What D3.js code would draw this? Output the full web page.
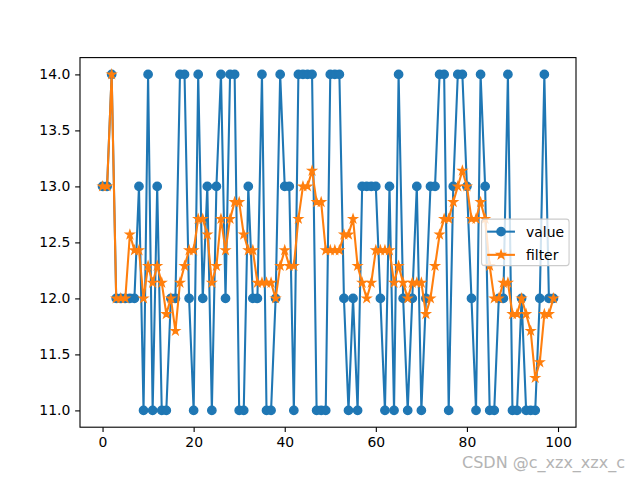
<!DOCTYPE html>
<html>
<head>
<meta charset="utf-8">
<script src="https://cdn.jsdelivr.net/npm/d3@7"></script>
<style>
  html, body { margin: 0; padding: 0; background: #ffffff; }
  svg { display: block; }
</style>
</head>
<body>
<script>
// ---- data ----
const valueSeries = [
  13,13,14,12,12,12,12,12,13,11,
  14,11,13,11,11,12,12,14,14,12,
  11,14,12,13,11,13,14,12,14,14,
  11,11,13,12,12,14,11,11,12,14,
  13,13,11,14,14,14,14,11,11,11,
  14,14,14,12,11,12,11,13,13,13,
  13,12,11,13,11,14,12,11,12,13,
  11,12,13,13,14,14,11,13,14,14,
  13,12,11,14,13,11,11,12,12,14,
  11,11,12,11,11,11,12,14,12,12
];
const filterSeries = [
  13,13,14,12,12,12,12.57,12.43,12.43,12.0,
  12.29,12.14,12.29,12.14,11.86,12.0,11.71,12.14,12.29,12.43,
  12.43,12.71,12.71,12.57,12.14,12.29,12.71,12.43,12.71,12.86,
  12.86,12.57,12.43,12.43,12.14,12.14,12.14,12.14,12.0,12.29,
  12.43,12.29,12.29,12.71,13.0,13.0,13.14,12.86,12.86,12.43,
  12.43,12.43,12.43,12.57,12.57,12.71,12.29,12.14,12.0,12.14,
  12.43,12.43,12.43,12.43,12.14,12.29,12.14,12.0,12.14,12.14,
  12.14,11.86,12.0,12.29,12.57,12.71,12.71,12.86,13.0,13.14,
  13.0,12.71,12.71,12.86,12.71,12.29,12.0,12.0,12.14,12.14,
  11.86,11.86,12.0,11.86,11.71,11.29,11.43,11.86,11.86,12.0
];
const seriesNames = ["value", "filter"];
const xTickValues = [0, 20, 40, 60, 80, 100];
const yTickValues = [11.0, 11.5, 12.0, 12.5, 13.0, 13.5, 14.0];
const watermark = "CSDN @c_xzx_xzx_c";

// ---- layout ----
const W = 640, H = 480;
const L = 80, R = 576, T = 57.6, B = 427.2;
const blue = "#1f77b4", orange = "#ff7f0e";
const font = "'DejaVu Sans', sans-serif";
const fs = 13.9;

const svg = d3.select("body").append("svg").attr("width", W).attr("height", H);
svg.append("rect").attr("width", W).attr("height", H).attr("fill", "#fff");

const n = valueSeries.length;
const x = d3.scaleLinear().domain([-(n - 1) * 0.05, (n - 1) * 1.05]).range([L, R]);
const y = d3.scaleLinear().domain([10.85, 14.15]).range([B, T]);

// axes
const xAxis = d3.axisBottom(x).tickValues(xTickValues).tickFormat(d3.format("d"))
  .tickSizeInner(4.86).tickSizeOuter(0).tickPadding(4.86);
const yAxis = d3.axisLeft(y).tickValues(yTickValues).tickFormat(d3.format(".1f"))
  .tickSizeInner(4.86).tickSizeOuter(0).tickPadding(4.86);

const gx = svg.append("g").attr("transform", `translate(0,${B})`).call(xAxis);
const gy = svg.append("g").attr("transform", `translate(${L},0)`).call(yAxis);
[gx, gy].forEach(g => {
  g.select(".domain").remove();
  g.selectAll(".tick line").attr("stroke", "#000").attr("stroke-width", 1.1);
  g.selectAll(".tick text").attr("fill", "#000").style("font-family", font).style("font-size", fs + "px");
});

const plot = svg.append("g");
const idx = valueSeries.map((v, i) => i);
const lineGen = d3.line().x(d => x(d[0])).y(d => y(d[1]));

// value series
plot.append("path")
  .datum(idx.map(i => [i, valueSeries[i]]))
  .attr("d", lineGen).attr("fill", "none").attr("stroke", blue)
  .attr("stroke-width", 2.08).attr("stroke-linejoin", "round").attr("stroke-linecap", "square");
plot.selectAll("circle.v").data(idx).enter().append("circle")
  .attr("class", "v")
  .attr("cx", i => x(i)).attr("cy", i => y(valueSeries[i])).attr("r", 4.17)
  .attr("fill", blue).attr("stroke", blue).attr("stroke-width", 1.39);

// star path (matplotlib-like)
function starPath(r) {
  const ri = r * 0.381966;
  const pts = [];
  for (let k = 0; k < 10; k++) {
    const a = -Math.PI / 2 + k * Math.PI / 5;
    const rr = k % 2 === 0 ? r : ri;
    pts.push([rr * Math.cos(a), rr * Math.sin(a)]);
  }
  return "M" + pts.map(p => p[0].toFixed(2) + "," + p[1].toFixed(2)).join("L") + "Z";
}
const star = starPath(4.17);

// filter series
plot.append("path")
  .datum(idx.map(i => [i, filterSeries[i]]))
  .attr("d", lineGen).attr("fill", "none").attr("stroke", orange)
  .attr("stroke-width", 2.08).attr("stroke-linejoin", "round").attr("stroke-linecap", "square");
plot.selectAll("path.f").data(idx).enter().append("path")
  .attr("class", "f")
  .attr("transform", i => `translate(${x(i)},${y(filterSeries[i])})`)
  .attr("d", star).attr("fill", orange).attr("stroke", orange)
  .attr("stroke-width", 1.39).attr("stroke-linejoin", "miter");

// frame
svg.append("rect").attr("x", L).attr("y", T).attr("width", R - L).attr("height", B - T)
  .attr("fill", "none").attr("stroke", "#000").attr("stroke-width", 1.1);

// legend
const lgW = 87.5, lgH = 46.5;
const lgX = R - 6.94 - lgW, lgY = (T + B) / 2 - lgH / 2;
const lg = svg.append("g");
lg.append("rect").attr("x", lgX).attr("y", lgY).attr("width", lgW).attr("height", lgH)
  .attr("rx", 2.8).attr("fill", "#fff").attr("fill-opacity", 0.8)
  .attr("stroke", "#cccccc").attr("stroke-width", 1.1);
const rows = [
  { name: seriesNames[0], color: blue, mark: "circle" },
  { name: seriesNames[1], color: orange, mark: "star" }
];
rows.forEach((r, k) => {
  const cy = lgY + 12.5 + k * 23.2;
  const hx0 = lgX + 5.6, hx1 = hx0 + 27.8;
  lg.append("line").attr("x1", hx0).attr("x2", hx1).attr("y1", cy).attr("y2", cy)
    .attr("stroke", r.color).attr("stroke-width", 2.08);
  if (r.mark === "circle") {
    lg.append("circle").attr("cx", (hx0 + hx1) / 2).attr("cy", cy).attr("r", 4.17)
      .attr("fill", r.color).attr("stroke", r.color).attr("stroke-width", 1.39);
  } else {
    lg.append("path").attr("transform", `translate(${(hx0 + hx1) / 2},${cy})`)
      .attr("d", star).attr("fill", r.color).attr("stroke", r.color).attr("stroke-width", 1.39);
  }
  lg.append("text").attr("x", hx1 + 11.1).attr("y", cy).attr("dy", "0.36em")
    .style("font-family", font).style("font-size", fs + "px").attr("fill", "#000")
    .text(r.name);
});

// watermark
svg.append("text").attr("x", 625).attr("y", 468).attr("text-anchor", "end")
  .style("font-family", font).style("font-size", "16px").attr("fill", "#b4b4b4")
  .text(watermark);
</script>
</body>
</html>
